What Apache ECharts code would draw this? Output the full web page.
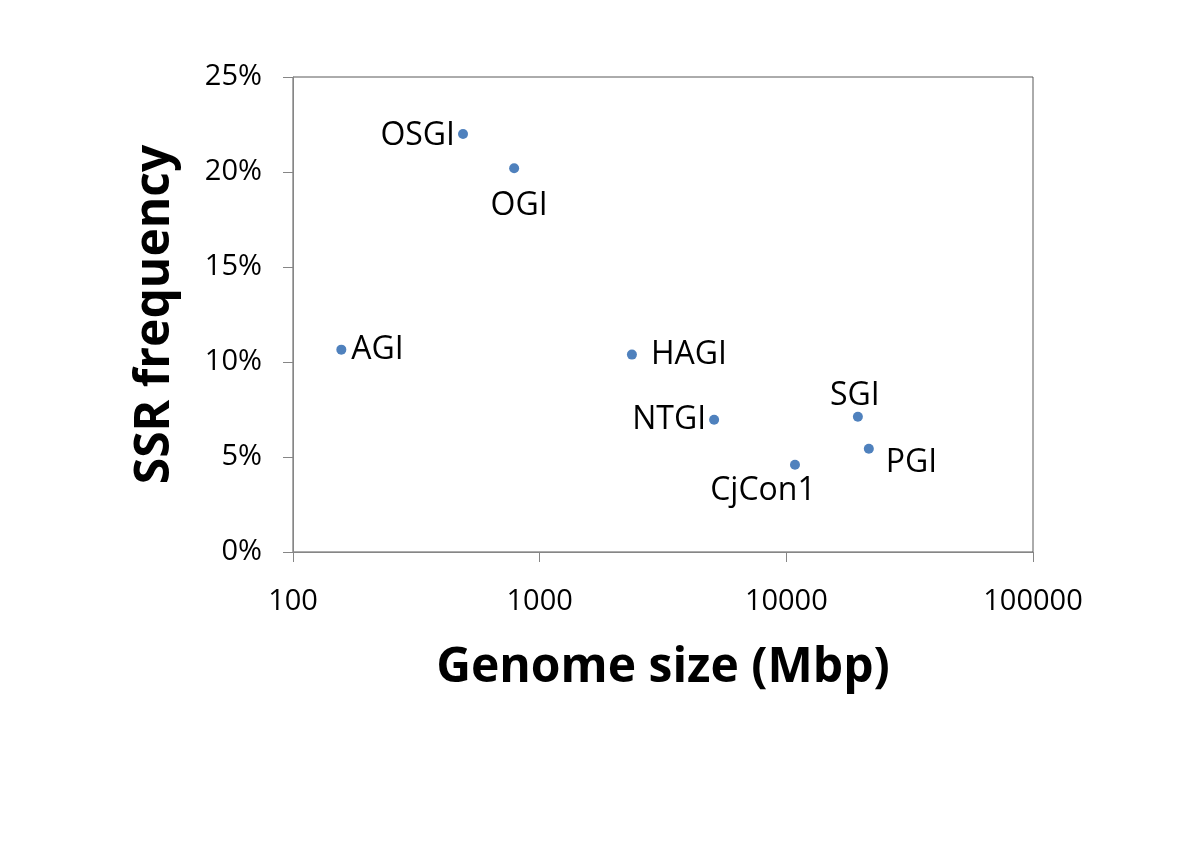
<!DOCTYPE html>
<html>
<head>
<meta charset="utf-8">
<script src="https://cdn.jsdelivr.net/npm/echarts@6/dist/echarts.min.js"></script>
<style>html,body{margin:0;padding:0;background:#fff}#c{width:1200px;height:849px}</style>
</head>
<body>
<div id="c"></div>
<script>
const names = ['OSGI','OGI','AGI','HAGI','NTGI','SGI','PGI','CjCon1'];
const genomeSize = [489, 788, 157, 2366, 5096, 19500, 21600, 10840];
const ssrFreq = [0.220, 0.202, 0.1065, 0.1039, 0.0696, 0.0712, 0.0543, 0.0459];
const xTicks = [100, 1000, 10000, 100000];
const yTicks = [0, 0.05, 0.10, 0.15, 0.20, 0.25];

// label styling (not data)
const labelStyle = {
  OSGI:   {position:'left', distance:3, offset:[0,2]},
  OGI:    {position:'bottom', distance:17, offset:[5,0]},
  AGI:    {position:'right', distance:5},
  HAGI:   {position:'right', distance:14},
  NTGI:   {position:'left', distance:3},
  SGI:    {position:'top', distance:0, offset:[-3,0]},
  PGI:    {position:'right', distance:12, offset:[0,14]},
  CjCon1: {position:'bottom', distance:5, offset:[-32,0]}
};

const font = '"Open Sans", "Liberation Sans", sans-serif';
const chart = echarts.init(document.getElementById('c'), null, {renderer:'canvas'});
chart.setOption({
  backgroundColor:'#fff',
  animation:false,
  grid:{left:293, right:167, top:77, bottom:297, show:true, borderColor:'#595959', borderWidth:1, containLabel:false},
  xAxis:{
    type:'log', logBase:10, min:xTicks[0], max:xTicks[xTicks.length-1],
    name:'Genome size (Mbp)', nameLocation:'middle', nameGap:92,
    nameTextStyle:{fontFamily:font, fontWeight:'bold', fontSize:48, color:'#000'},
    axisLine:{show:true, lineStyle:{color:'#868686', width:1}},
    axisTick:{show:true, length:10, inside:false, lineStyle:{color:'#868686'}},
    minorTick:{show:false},
    splitLine:{show:false},
    axisLabel:{fontFamily:font, fontSize:29, color:'#000', margin:35,
      formatter:function(v){return String(Math.round(v));}}
  },
  yAxis:{
    type:'value', min:yTicks[0], max:yTicks[yTicks.length-1], interval:0.05,
    name:'SSR frequency', nameLocation:'middle', nameGap:114,
    nameTextStyle:{fontFamily:font, fontWeight:'bold', fontSize:48, color:'#000'},
    axisLine:{show:true, lineStyle:{color:'#868686', width:1}},
    axisTick:{show:true, length:10, inside:false, lineStyle:{color:'#868686'}},
    splitLine:{show:false},
    axisLabel:{fontFamily:font, fontSize:29, color:'#000', margin:31,
      formatter:function(v){return Math.round(v*100)+'%';}}
  },
  series:[{
    type:'scatter',
    symbol:'circle', symbolSize:10,
    itemStyle:{color:'#4F81BD', opacity:1},
    emphasis:{disabled:true},
    data: names.map(function(n,i){
      const ls = labelStyle[n];
      return {value:[genomeSize[i], ssrFreq[i]], name:n,
        label:Object.assign({show:true, formatter:n, fontFamily:font, fontSize:32, color:'#000', textBorderWidth:0}, ls)};
    })
  }]
});
</script>
</body>
</html>
